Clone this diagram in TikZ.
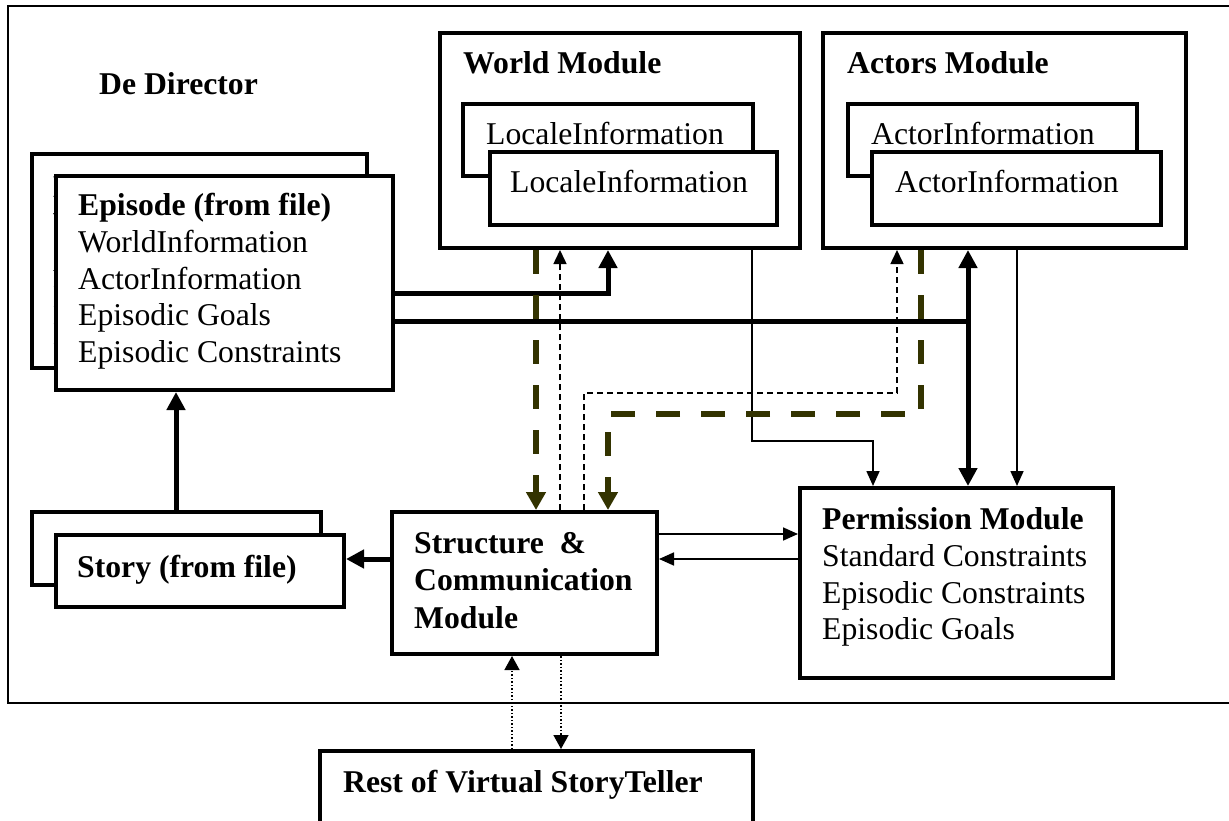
\documentclass[tikz,border=0pt]{standalone}
\usepackage{fontspec}
\setmainfont{Liberation Serif}
\usetikzlibrary{arrows.meta,fit}
\definecolor{darkolive}{RGB}{51,51,0}
\tikzset{
  txt/.style={inner sep=0pt, anchor=base west, font=\fontsize{31.7}{36.5}\selectfont},
  btxt/.style={inner sep=0pt, anchor=base west, font=\fontsize{31.7}{36.5}\selectfont\bfseries},
  box/.style={draw, line width=4pt, fill=white, inner sep=0pt},
  thickline/.style={line width=5pt},
  thickarr/.style={thickline, -{Triangle[length=18pt,width=18pt]}},
  thickboth/.style={thickline, {Triangle[length=18pt,width=18pt]}-{Triangle[length=18pt,width=18pt]}},
  thinarr/.style={line width=1.7pt, -{Triangle[length=15pt,width=13pt]}},
  dasharr/.style={line width=1.5pt, dash pattern=on 6pt off 4pt, -{Triangle[length=14pt,width=13pt]}},
  olivearr/.style={darkolive, line width=6pt, dash pattern=on 24pt off 21pt, -{Triangle[length=18pt,width=19pt]}},
  dotarr/.style={line width=1.5pt, dash pattern=on 1.5pt off 2pt, -{Triangle[length=14pt,width=15pt]}},
}
\begin{document}
\begin{tikzpicture}[x=1pt,y=-1pt]
\useasboundingbox (0,0) rectangle (1229,821);
\clip (0,0) rectangle (1229,821);

% Director frame, open to the right
\node[draw, line width=2.5pt, inner sep=0pt, fit={(8,6)(1250,703)}] (director) {};
\node[btxt] (dirTitle) at (99,95) {De Director};

% Episode stack (the back sheet carries the same text, mostly hidden)
\node[box, fit={(32,154)(367,368)}] (epiBack) {};
\node[btxt] (epiBackA) at (53,198) {Episode (from file)};
\node[txt] (epiBackB) at (53,234.5) {WorldInformation};
\node[txt] (epiBackC) at (53,271) {ActorInformation};
\node[txt] (epiBackD) at (53,307.5) {Episodic Goals};
\node[txt] (epiBackE) at (53,344) {Episodic Constraints};
\node[box, fit={(56,176)(393,390)}] (epiFront) {};
\node[btxt] (epiA) at (78,216) {Episode (from file)};
\node[txt] (epiB) at (78,252.5) {WorldInformation};
\node[txt] (epiC) at (78,289) {ActorInformation};
\node[txt] (epiD) at (78,325.5) {Episodic Goals};
\node[txt] (epiE) at (78,362) {Episodic Constraints};

% Story stack
\node[box, fit={(32,512)(321,585)}] (storyBack) {};
\node[box, fit={(56,535)(344,607)}] (storyFront) {};
\node[btxt] (storyTxt) at (77,577) {Story (from file)};

% World module
\node[box, fit={(440,33)(800,248)}] (world) {};
\node[btxt] (worldTxt) at (463,74) {World Module};
\node[box, fit={(463,104)(753,176)}] (locBack) {};
\node[txt] (locBackTxt) at (486,145) {LocaleInformation};
\node[box, fit={(490,152)(777,225)}] (locFront) {};
\node[txt] (locFrontTxt) at (510,193) {LocaleInformation};

% Actors module
\node[box, fit={(823,33)(1186,248)}] (actors) {};
\node[btxt] (actorsTxt) at (847,74) {Actors Module};
\node[box, fit={(848,104)(1137,176)}] (actBack) {};
\node[txt] (actBackTxt) at (871,145) {ActorInformation};
\node[box, fit={(872,152)(1161,225)}] (actFront) {};
\node[txt] (actFrontTxt) at (895,193) {ActorInformation};

% Structure & Communication module
\node[box, fit={(392,512)(657,654)}] (struct) {};
\node[btxt] (structA) at (414,553) {Structure~~\&};
\node[btxt] (structB) at (414,590) {Communication};
\node[btxt] (structC) at (414,628) {Module};

% Permission module
\node[box, fit={(800,488)(1113,678)}] (perm) {};
\node[btxt] (permA) at (822,529) {Permission Module};
\node[txt] (permB) at (822,566) {Standard Constraints};
\node[txt] (permC) at (822,603) {Episodic Constraints};
\node[txt] (permD) at (822,639) {Episodic Goals};

% Rest of the system (runs off the bottom)
\node[box, fit={(320,751)(753,880)}] (rest) {};
\node[btxt] (restTxt) at (343,792) {Rest of Virtual StoryTeller};

% Thick data flows
\coordinate (jn) at (968,321);
\draw[thickarr] (epiFront.east |- 0,293) -| (world.south -| 608,0);
\draw[thickline] (epiFront.east |- jn) -- (jn);
\draw[thickboth] (actors.south -| jn) -- (perm.north -| jn);
\draw[thickarr] (storyBack.north -| 176,0) -- (epiFront.south -| 176,0);
\draw[thickarr] (struct.west |- 0,559) -- (storyFront.east |- 0,559);

% Thin flows
\draw[thinarr] (struct.east |- 0,534) -- (perm.west |- 0,534);
\draw[thinarr] (perm.west |- 0,559) -- (struct.east |- 0,559);
\draw[thinarr] (world.south -| 752,0) |- (873,441) -- (perm.north -| 873,0);
\draw[thinarr] (actors.south -| 1017,0) -- (perm.north -| 1017,0);

% Requests (dashed) and answers (olive)
\draw[dasharr] (struct.north -| 560,0) -- (world.south -| 560,0);
\draw[dasharr] (struct.north -| 584,0) |- (897,393) -- (actors.south -| 897,0);
\draw[olivearr] (world.south -| 536,0) -- (struct.north -| 536,0);
\draw[olivearr] (actors.south -| 921,0) |- (608,414) -- (struct.north -| 608,0);

% Link to the rest of the storyteller
\draw[dotarr] (rest.north -| 512,0) -- (struct.south -| 512,0);
\draw[dotarr] (struct.south -| 561,0) -- (rest.north -| 561,0);
\end{tikzpicture}
\end{document}
